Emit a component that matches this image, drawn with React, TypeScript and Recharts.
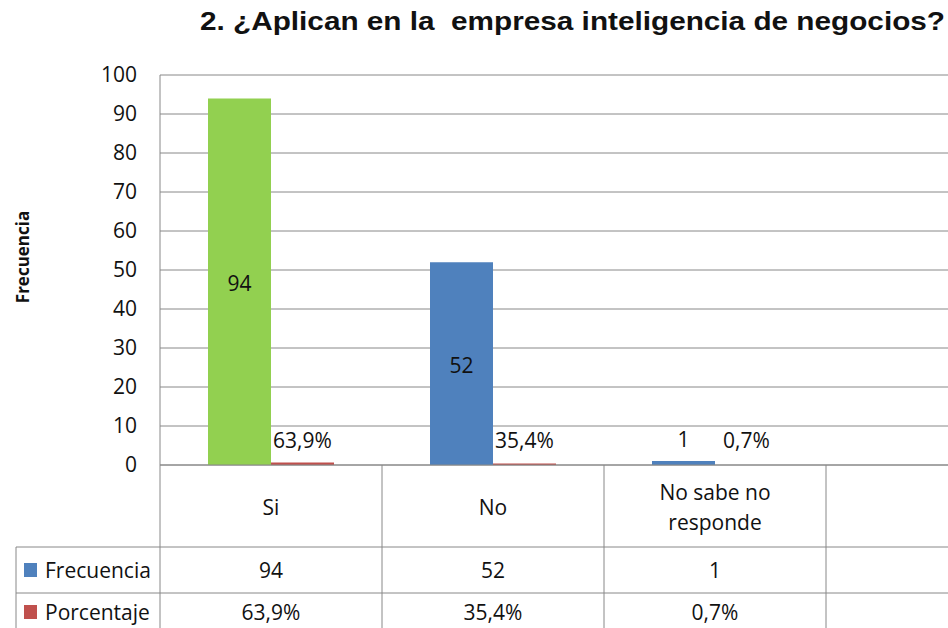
import React from 'react';
import { BarChart, Bar, XAxis, YAxis, CartesianGrid, Cell, LabelList, Label } from 'recharts';

const title = '2. ¿Aplican en la  empresa inteligencia de negocios?';
const yAxisTitle = 'Frecuencia';
const categories = ['Si', 'No', 'No sabe no\nresponde', ''];
const frecuencia: (number | null)[] = [94, 52, 1, null];
const porcentaje: (number | null)[] = [0.639, 0.354, 0.007, null];
const frecuenciaText = ['94', '52', '1', ''];
const porcentajeText = ['63,9%', '35,4%', '0,7%', ''];
const seriesNames = ['Frecuencia', 'Porcentaje'];
const yTicks = [0, 10, 20, 30, 40, 50, 60, 70, 80, 90, 100];

const data = categories.map((name, i) => ({
  name,
  frecuencia: frecuencia[i],
  porcentaje: porcentaje[i],
}));

const W = 1060;
const H = 700;
const TOP = 75;
const LEFT = 160;
const RIGHT_M = 12;
const PLOT_H = 390;
const PLOT_BOTTOM = TOP + PLOT_H;
const CW = (W - LEFT - RIGHT_M) / categories.length;
const ROW2 = 547;
const ROW3 = 593;
const ROW4 = 631;
const TABLE_LEFT = 16;

const GRID = '#888888';
const BLUE = '#4F81BD';
const RED = '#C0504D';
const GREEN = '#92D050';
const TEXT = '#111111';
const FONT = '"Open Sans", sans-serif';
const FS = 21;

const TableTick = (props: any) => {
  const { x, payload, index } = props;
  const i = index ?? 0;
  const left = x - CW / 2;
  const lines = String(payload.value).split('\n');
  const catCenter = (PLOT_BOTTOM + ROW2) / 2 + 1;
  return (
    <g>
      <line x1={left} y1={PLOT_BOTTOM} x2={left} y2={ROW4 + 20} stroke={GRID} strokeWidth={1} />
      {i === 0 && (
        <g>
          <line x1={TABLE_LEFT} y1={ROW2} x2={W} y2={ROW2} stroke={GRID} strokeWidth={1} />
          <line x1={TABLE_LEFT} y1={ROW3} x2={W} y2={ROW3} stroke={GRID} strokeWidth={1} />
          <line x1={TABLE_LEFT} y1={ROW2} x2={TABLE_LEFT} y2={ROW4 + 20} stroke={GRID} strokeWidth={1} />
          <rect x={24} y={(ROW2 + ROW3) / 2 - 7} width={13} height={14} fill={BLUE} />
          <text x={45} y={(ROW2 + ROW3) / 2} dominantBaseline="central" fontFamily={FONT} fontSize={FS} fill={TEXT}>
            {seriesNames[0]}
          </text>
          <rect x={24} y={(ROW3 + ROW4) / 2 - 7} width={13} height={14} fill={RED} />
          <text x={45} y={(ROW3 + ROW4) / 2} dominantBaseline="central" fontFamily={FONT} fontSize={FS} fill={TEXT}>
            {seriesNames[1]}
          </text>
        </g>
      )}
      {lines.map((ln, k) => (
        <text
          key={k}
          x={x}
          y={catCenter + (k - (lines.length - 1) / 2) * 30}
          textAnchor="middle"
          dominantBaseline="central"
          fontFamily={FONT}
          fontSize={FS}
          fill={TEXT}
        >
          {ln}
        </text>
      ))}
      <text x={x} y={(ROW2 + ROW3) / 2} textAnchor="middle" dominantBaseline="central" fontFamily={FONT} fontSize={FS} fill={TEXT}>
        {frecuenciaText[i]}
      </text>
      <text x={x} y={(ROW3 + ROW4) / 2} textAnchor="middle" dominantBaseline="central" fontFamily={FONT} fontSize={FS} fill={TEXT}>
        {porcentajeText[i]}
      </text>
    </g>
  );
};

const FreqLabel = (props: any) => {
  const { x, y, width, height, index } = props;
  const v = frecuencia[index];
  if (v == null) return null;
  const cx = x + width / 2;
  if (height > 40) {
    return (
      <text x={cx} y={y + height / 2 + 1} textAnchor="middle" dominantBaseline="central" fontFamily={FONT} fontSize={FS} fill={TEXT}>
        {frecuenciaText[index]}
      </text>
    );
  }
  return (
    <text x={cx} y={y - 14} textAnchor="middle" fontFamily={FONT} fontSize={FS} fill={TEXT}>
      {frecuenciaText[index]}
    </text>
  );
};

const PctLabel = (props: any) => {
  const { x, y, width, index } = props;
  const v = porcentaje[index];
  if (v == null) return null;
  return (
    <text x={x + width / 2} y={Math.min(y, PLOT_BOTTOM - 2.5) - 15} textAnchor="middle" fontFamily={FONT} fontSize={FS} fill={TEXT}>
      {porcentajeText[index]}
    </text>
  );
};

const YTitle = (props: any) => {
  const cx = 22;
  const cy = 257;
  return (
    <text
      x={cx}
      y={cy}
      transform={`rotate(-90 ${cx} ${cy})`}
      textAnchor="middle"
      dominantBaseline="central"
      fontFamily={FONT}
      fontWeight="bold"
      fontSize={17}
      fill={TEXT}
    >
      {yAxisTitle}
    </text>
  );
};

export default function App() {
  return (
    <div style={{ position: 'absolute', left: 0, top: 0, width: 948, height: 628, overflow: 'hidden', background: '#fff' }}>
      <svg width={948} height={60} style={{ position: 'absolute', left: 0, top: 0 }}>
        <text
          x={200}
          y={30}
          fontFamily='"Liberation Sans", Arial, sans-serif'
          fontWeight="bold"
          fontSize={26}
          fill={TEXT}
          textLength={745}
          lengthAdjust="spacingAndGlyphs"
          style={{ whiteSpace: 'pre' }}
        >
          {title}
        </text>
      </svg>
      <div style={{ position: 'absolute', left: 0, top: 0 }}>
        <BarChart
          width={W}
          height={H}
          data={data}
          margin={{ top: TOP, right: RIGHT_M, bottom: 0, left: 0 }}
          barCategoryGap={48}
          barGap={0}
        >
          <CartesianGrid horizontal vertical={false} stroke={GRID} strokeWidth={1} />
          <XAxis
            dataKey="name"
            height={H - TOP - PLOT_H}
            interval={0}
            tickLine={false}
            axisLine={{ stroke: GRID, strokeWidth: 1 }}
            tick={<TableTick />}
          />
          <YAxis
            width={LEFT}
            domain={[0, 100]}
            ticks={yTicks}
            interval={0}
            tickLine={false}
            tickSize={0}
            tickMargin={23}
            axisLine={{ stroke: GRID, strokeWidth: 1 }}
            tick={{ fontFamily: FONT, fontSize: FS, fill: TEXT }}
          >
            <Label content={<YTitle />} />
          </YAxis>
          <Bar dataKey="frecuencia" fill={BLUE} isAnimationActive={false}>
            {data.map((d, i) => (
              <Cell key={i} fill={i === 0 ? GREEN : BLUE} />
            ))}
            <LabelList dataKey="frecuencia" content={<FreqLabel />} />
          </Bar>
          <Bar dataKey="porcentaje" fill={RED} isAnimationActive={false}>
            <LabelList dataKey="porcentaje" content={<PctLabel />} />
          </Bar>
        </BarChart>
      </div>
    </div>
  );
}
